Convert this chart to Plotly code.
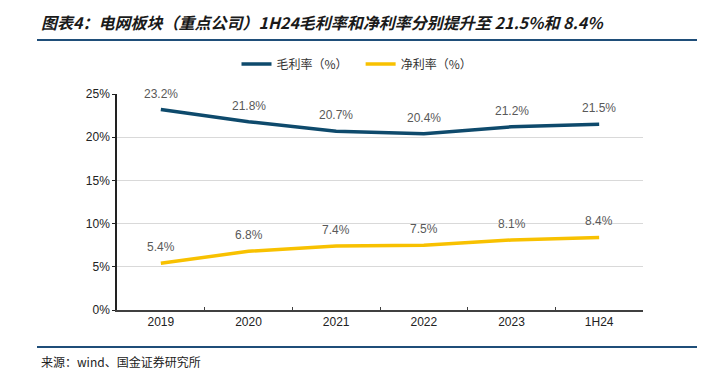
import plotly.graph_objects as go

categories = ["2019", "2020", "2021", "2022", "2023", "1H24"]
gross_margin = [23.2, 21.8, 20.7, 20.4, 21.2, 21.5]
net_margin = [5.4, 6.8, 7.4, 7.5, 8.1, 8.4]
y_ticks = [0, 5, 10, 15, 20, 25]
y_tick_labels = [f"{v}%" for v in y_ticks]

W, H = 716, 375
L, R, T, B = 117, 643, 94, 310

def px(x):
    return (x - L) / (R - L)

def py(y):
    return (B - y) / (B - T)

CJK = "Noto Sans CJK SC"
LAT = "Liberation Sans, Arial"
BLUE = "#0e4a6c"
YELLOW = "#f8c100"
LABEL = "#595959"

fig = go.Figure()
fig.add_trace(go.Scatter(
    x=categories, y=gross_margin, mode="lines", name="毛利率（%）   ",
    line=dict(color=BLUE, width=3.5),
))
fig.add_trace(go.Scatter(
    x=categories, y=net_margin, mode="lines", name="净利率（%）",
    line=dict(color=YELLOW, width=3.5),
))

annotations = []
for series in (gross_margin, net_margin):
    for i, v in enumerate(series):
        annotations.append(dict(x=i, y=v, xref="x", yref="y", text=f"{v:.1f}%",
                                showarrow=False, yshift=16, yanchor="middle",
                                font=dict(family=LAT, size=12, color=LABEL)))

annotations += [
    dict(xref="paper", yref="paper", x=px(39), y=py(22), xanchor="left", yanchor="middle",
         text="<b><i>图表4：电网板块（重点公司）1H24毛利率和净利率分别提升至 21.5%和 8.4%</i></b>",
         showarrow=False, font=dict(family=CJK, size=16, color="#1a1a1a")),
    dict(xref="paper", yref="paper", x=px(39), y=py(361), xanchor="left", yanchor="middle",
         text="来源：wind、国金证券研究所", showarrow=False,
         font=dict(family=CJK, size=12, color="#222222")),
]

fig.update_layout(
    width=W, height=H,
    margin=dict(l=L, r=W - R, t=T, b=H - B, pad=0),
    paper_bgcolor="white", plot_bgcolor="white",
    showlegend=True,
    legend=dict(orientation="h", x=px(357), xanchor="center", y=py(64), yanchor="middle",
                font=dict(family=CJK, size=12, color="#333333"),
                tracegroupgap=0),
    xaxis=dict(type="category", showgrid=False, showline=True, linecolor="#404040",
               linewidth=1.5, ticks="inside", tickson="boundaries", ticklen=3,
               tickcolor="#404040",
               tickfont=dict(family=LAT, size=12, color="#222222"),
               range=[-0.5, 5.5], fixedrange=True),
    yaxis=dict(range=[0, 25], tickvals=y_ticks, ticktext=y_tick_labels,
               showgrid=True, gridcolor="#d9d9d9", gridwidth=1,
               showline=True, linecolor="#222222", linewidth=1.5,
               ticks="outside", ticklen=3, tickcolor="#222222",
               tickfont=dict(family=LAT, size=12, color="#222222"),
               zeroline=False, fixedrange=True),
    shapes=[
        dict(type="line", xref="paper", yref="paper", x0=px(37), x1=px(697),
             y0=py(40), y1=py(40), line=dict(color="#1f4e79", width=2)),
        dict(type="line", xref="paper", yref="paper", x0=px(37), x1=px(697),
             y0=py(347), y1=py(347), line=dict(color="#1f4e79", width=2)),
    ],
    annotations=annotations,
)

fig.write_html("out.html", config={"displayModeBar": False},
               post_script="document.body.style.margin='0';document.body.style.padding='0';")
